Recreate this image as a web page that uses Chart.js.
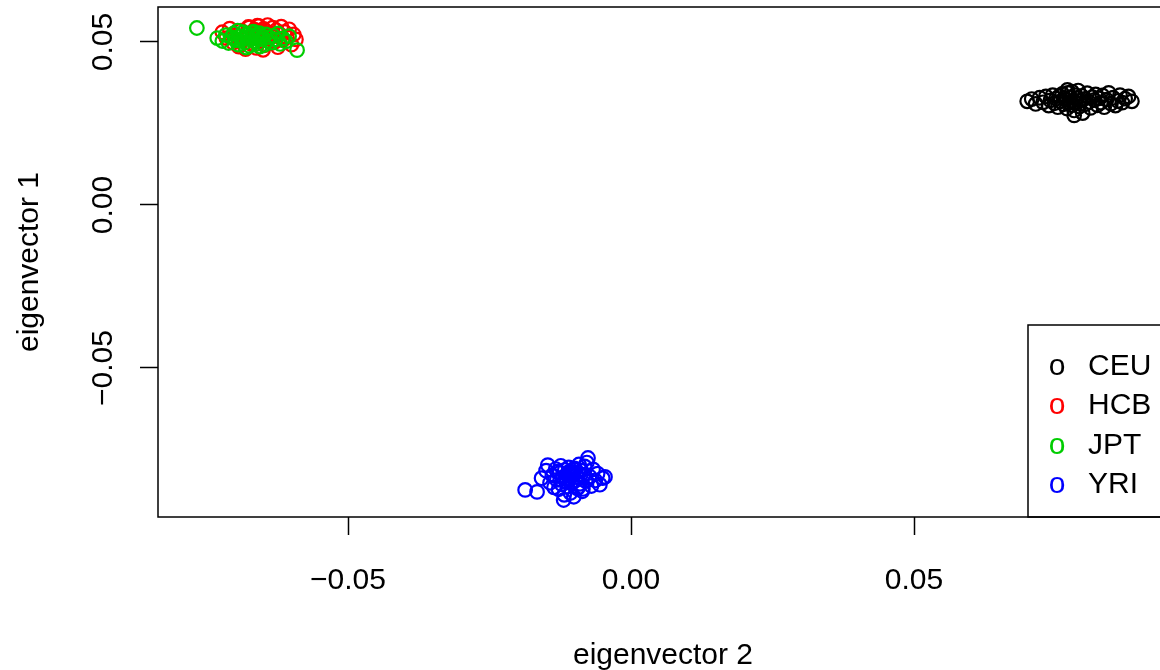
<!DOCTYPE html>
<html>
<head>
<meta charset="utf-8">
<script src="https://cdn.jsdelivr.net/npm/chart.js@4.4.1/dist/chart.umd.min.js"></script>
<style>
  html, body { margin: 0; padding: 0; background: #fff; overflow: hidden; }
  #wrap { width: 1170px; height: 670px; }
</style>
</head>
<body>
<div id="wrap"><canvas id="pca" width="1170" height="670"></canvas></div>
<script>
// Grupos y colores (paleta de R)
const groupNames = ['CEU', 'HCB', 'JPT', 'YRI'];
const groupColors = ['#000000', '#FF0000', '#00CD00', '#0000FF'];

// Valores (eigenvector 2 = x, eigenvector 1 = y)
const ceuX = [0.0700, 0.0708, 0.0715, 0.0722, 0.0728, 0.0733, 0.0738, 0.0741, 0.0745, 0.0748,
  0.0751, 0.0754, 0.0757, 0.0759, 0.0762, 0.0764, 0.0766, 0.0768, 0.0770, 0.0772,
  0.0774, 0.0776, 0.0778, 0.0779, 0.0781, 0.0783, 0.0785, 0.0786, 0.0788, 0.0790,
  0.0792, 0.0794, 0.0796, 0.0798, 0.0800, 0.0803, 0.0806, 0.0809, 0.0812, 0.0815,
  0.0818, 0.0821, 0.0824, 0.0827, 0.0830, 0.0833, 0.0836, 0.0840, 0.0844, 0.0848,
  0.0852, 0.0856, 0.0860, 0.0864, 0.0868, 0.0873, 0.0879, 0.0885, 0.0771, 0.0783];
const ceuY = [0.0318, 0.0325, 0.0310, 0.0329, 0.0315, 0.0333, 0.0305, 0.0321, 0.0337, 0.0312,
  0.0326, 0.0300, 0.0334, 0.0318, 0.0341, 0.0309, 0.0327, 0.0322, 0.0296, 0.0344,
  0.0315, 0.0331, 0.0306, 0.0348, 0.0320, 0.0290, 0.0337, 0.0312, 0.0328, 0.0351,
  0.0302, 0.0319, 0.0335, 0.0282, 0.0325, 0.0309, 0.0343, 0.0316, 0.0298, 0.0331,
  0.0322, 0.0339, 0.0306, 0.0327, 0.0314, 0.0336, 0.0300, 0.0323, 0.0344, 0.0311,
  0.0329, 0.0305, 0.0319, 0.0337, 0.0314, 0.0326, 0.0333, 0.0318, 0.0353, 0.0275];

const hcbX = [-0.0722, -0.0715, -0.0709, -0.0703, -0.0698, -0.0693, -0.0689, -0.0685, -0.0681, -0.0677,
  -0.0674, -0.0671, -0.0668, -0.0665, -0.0662, -0.0659, -0.0657, -0.0654, -0.0652, -0.0649,
  -0.0647, -0.0645, -0.0642, -0.0640, -0.0638, -0.0635, -0.0633, -0.0630, -0.0627, -0.0624,
  -0.0621, -0.0618, -0.0615, -0.0612, -0.0608, -0.0604, -0.0600, -0.0596, -0.0592, -0.0660,
  -0.0650, -0.0643, -0.0676, -0.0629, -0.0655];
const hcbY = [0.0530, 0.0512, 0.0541, 0.0498, 0.0522, 0.0486, 0.0535, 0.0507, 0.0478, 0.0526,
  0.0545, 0.0494, 0.0516, 0.0538, 0.0482, 0.0529, 0.0549, 0.0503, 0.0521, 0.0540,
  0.0490, 0.0533, 0.0552, 0.0511, 0.0527, 0.0497, 0.0544, 0.0518, 0.0536, 0.0484,
  0.0524, 0.0547, 0.0506, 0.0531, 0.0515, 0.0539, 0.0492, 0.0523, 0.0508, 0.0550,
  0.0476, 0.0519, 0.0546, 0.0501, 0.0535];

const jptX = [-0.0767, -0.0731, -0.0722, -0.0716, -0.0711, -0.0706, -0.0702, -0.0698, -0.0694, -0.0691,
  -0.0688, -0.0685, -0.0682, -0.0679, -0.0677, -0.0674, -0.0672, -0.0669, -0.0667, -0.0664,
  -0.0662, -0.0659, -0.0657, -0.0654, -0.0651, -0.0648, -0.0645, -0.0642, -0.0639, -0.0636,
  -0.0632, -0.0628, -0.0624, -0.0620, -0.0615, -0.0610, -0.0604, -0.0590, -0.0695, -0.0680,
  -0.0668, -0.0656, -0.0700, -0.0661];
const jptY = [0.0543, 0.0512, 0.0503, 0.0521, 0.0497, 0.0514, 0.0526, 0.0505, 0.0492, 0.0518,
  0.0509, 0.0530, 0.0499, 0.0515, 0.0524, 0.0488, 0.0507, 0.0520, 0.0532, 0.0502,
  0.0513, 0.0495, 0.0527, 0.0509, 0.0517, 0.0491, 0.0523, 0.0504, 0.0514, 0.0498,
  0.0519, 0.0508, 0.0526, 0.0494, 0.0511, 0.0502, 0.0518, 0.0475, 0.0535, 0.0483,
  0.0529, 0.0486, 0.0511, 0.0521];

const yriX = [-0.0187, -0.0166, -0.0158, -0.0150, -0.0147, -0.0143, -0.0139, -0.0136, -0.0133, -0.0131,
  -0.0128, -0.0126, -0.0124, -0.0122, -0.0120, -0.0118, -0.0117, -0.0115, -0.0113, -0.0112,
  -0.0110, -0.0109, -0.0107, -0.0106, -0.0104, -0.0103, -0.0101, -0.0100, -0.0098, -0.0097,
  -0.0095, -0.0094, -0.0092, -0.0090, -0.0088, -0.0086, -0.0084, -0.0082, -0.0080, -0.0078,
  -0.0076, -0.0073, -0.0070, -0.0067, -0.0063, -0.0059, -0.0055, -0.0050, -0.0046, -0.0119,
  -0.0111, -0.0105, -0.0099, -0.0093, -0.0125, -0.0089, -0.0114, -0.0102, -0.0130, -0.0085];
const yriY = [-0.0874, -0.0880, -0.0838, -0.0815, -0.0798, -0.0852, -0.0829, -0.0866, -0.0810, -0.0843,
  -0.0872, -0.0822, -0.0800, -0.0857, -0.0835, -0.0889, -0.0813, -0.0848, -0.0826, -0.0864,
  -0.0805, -0.0840, -0.0883, -0.0818, -0.0852, -0.0831, -0.0895, -0.0808, -0.0845, -0.0822,
  -0.0869, -0.0836, -0.0796, -0.0855, -0.0815, -0.0878, -0.0828, -0.0802, -0.0847, -0.0790,
  -0.0776, -0.0833, -0.0862, -0.0811, -0.0845, -0.0824, -0.0858, -0.0838, -0.0834, -0.0905,
  -0.0820, -0.0850, -0.0812, -0.0866, -0.0842, -0.0829, -0.0837, -0.0825, -0.0818, -0.0871];

// Ejes
const xRange = [-0.083569, 0.094876];
const yRange = [-0.095706, 0.060736];
const xTickValues = [-0.05, 0, 0.05];
const xTickLabels = ['\u22120.05', '0.00', '0.05'];
const yTickValues = [0.05, 0, -0.05];
const yTickLabels = ['0.05', '0.00', '\u22120.05'];
const xTitle = 'eigenvector 2';
const yTitle = 'eigenvector 1';

const FONT = '30px "Liberation Sans", Arial, sans-serif';

function toPoints(xs, ys) {
  return xs.map((x, i) => ({ x: x, y: ys[i] }));
}

const seriesX = [ceuX, hcbX, jptX, yriX];
const seriesY = [ceuY, hcbY, jptY, yriY];

// Caja, etiquetas de ejes y leyenda al estilo R
const rDecor = {
  id: 'rDecor',
  afterDraw(chart) {
    const ctx = chart.ctx;
    const area = chart.chartArea;
    const xs = chart.scales.x;
    const ys = chart.scales.y;
    ctx.save();
    ctx.strokeStyle = '#000';
    ctx.lineWidth = 1.5;
    ctx.strokeRect(area.left, area.top, area.right - area.left, area.bottom - area.top);

    ctx.fillStyle = '#000';
    ctx.font = FONT;

    // etiquetas eje x
    ctx.textAlign = 'center';
    ctx.textBaseline = 'alphabetic';
    xTickValues.forEach((v, i) => {
      ctx.fillText(xTickLabels[i], xs.getPixelForValue(v), area.bottom + 72);
    });
    ctx.fillText(xTitle, (area.left + area.right) / 2, area.bottom + 147);

    // etiquetas eje y (rotadas)
    yTickValues.forEach((v, i) => {
      ctx.save();
      ctx.translate(area.left - 46, ys.getPixelForValue(v));
      ctx.rotate(-Math.PI / 2);
      ctx.fillText(yTickLabels[i], 0, 0);
      ctx.restore();
    });
    ctx.save();
    ctx.translate(area.left - 120, (area.top + area.bottom) / 2);
    ctx.rotate(-Math.PI / 2);
    ctx.fillText(yTitle, 0, 0);
    ctx.restore();

    // leyenda
    const boxW = 140, boxH = 192;
    const bx = area.right - boxW, by = area.bottom - boxH;
    ctx.strokeRect(bx, by, boxW, boxH);
    groupNames.forEach((name, i) => {
      const base = by + 50 + i * 39.3;
      ctx.textAlign = 'center';
      ctx.fillStyle = groupColors[i];
      ctx.fillText('o', bx + 29, base);
      ctx.textAlign = 'left';
      ctx.fillStyle = '#000';
      ctx.fillText(name, bx + 60, base);
    });
    ctx.restore();
  }
};

new Chart(document.getElementById('pca').getContext('2d'), {
  type: 'scatter',
  data: {
    datasets: groupNames.map((name, i) => ({
      label: name,
      data: toPoints(seriesX[i], seriesY[i]),
      borderColor: groupColors[i],
      backgroundColor: 'rgba(0,0,0,0)',
      pointRadius: 6.8,
      pointHoverRadius: 6.8,
      pointBorderWidth: 2.2,
      pointStyle: 'circle',
      order: 4 - i
    }))
  },
  options: {
    responsive: false,
    animation: false,
    devicePixelRatio: 1,
    layout: { autoPadding: false, padding: { top: 7, right: 2, left: 0, bottom: 0 } },
    plugins: {
      legend: { display: false },
      tooltip: { enabled: false }
    },
    scales: {
      x: {
        type: 'linear',
        min: xRange[0],
        max: xRange[1],
        afterBuildTicks: s => { s.ticks = xTickValues.map(v => ({ value: v })); },
        afterFit: s => { s.height = 153; },
        ticks: { display: false },
        border: { display: false },
        grid: { drawOnChartArea: false, drawTicks: true, tickLength: 18, tickColor: '#000', tickWidth: 1.5 }
      },
      y: {
        type: 'linear',
        min: yRange[0],
        max: yRange[1],
        afterBuildTicks: s => { s.ticks = yTickValues.map(v => ({ value: v })); },
        afterFit: s => { s.width = 158; },
        ticks: { display: false },
        border: { display: false },
        grid: { drawOnChartArea: false, drawTicks: true, tickLength: 18, tickColor: '#000', tickWidth: 1.5 }
      }
    }
  },
  plugins: [rDecor]
});
</script>
</body>
</html>
